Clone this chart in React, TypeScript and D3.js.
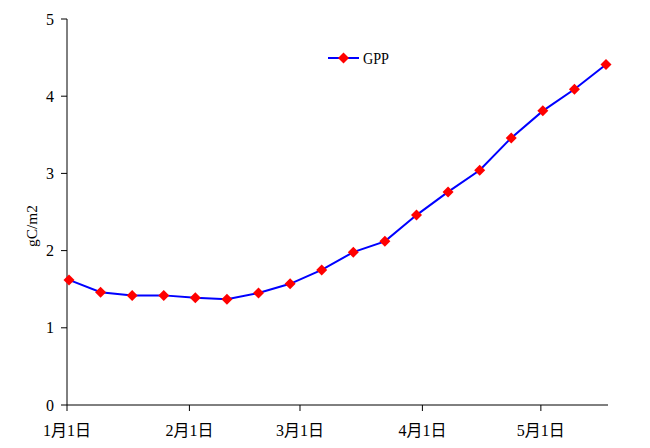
import React from "react";
import * as d3 from "d3";

const dates: string[] = [
  "2001-01-01", "2001-01-09", "2001-01-17", "2001-01-25", "2001-02-02", "2001-02-10",
  "2001-02-18", "2001-02-26", "2001-03-06", "2001-03-14", "2001-03-22", "2001-03-30",
  "2001-04-07", "2001-04-15", "2001-04-23", "2001-05-01", "2001-05-09", "2001-05-17",
];
const gpp: number[] = [
  1.62, 1.46, 1.42, 1.42, 1.39, 1.37, 1.45, 1.57, 1.75, 1.98, 2.12, 2.46,
  2.76, 3.04, 3.46, 3.81, 4.09, 4.41,
];
const xTickDates: string[] = ["2001-01-01", "2001-02-01", "2001-03-01", "2001-04-01", "2001-05-01"];
const xTickLabels: string[] = ["1月1日", "2月1日", "3月1日", "4月1日", "5月1日"];
const yTicks: number[] = [0, 1, 2, 3, 4, 5];
const seriesName = "GPP";
const yTitle = "gC/m2";

const parse = (s: string) => {
  const [y, m, d] = s.split("-").map(Number);
  return new Date(y, m - 1, d);
};

export default function App() {
  const W = 650, H = 448;
  const left = 67, right = 608, top = 19, bottom = 405;
  // Excel-style date axis: each day is a band; points at middle of the day
  const x = d3.scaleTime().domain([parse("2001-01-01"), parse("2001-05-18")]).range([left, right]);
  const y = d3.scaleLinear().domain([0, 5]).range([bottom, top]);
  const halfDay = 12 * 3600 * 1000;
  const pts = dates.map((d, i) => [x(new Date(parse(d).getTime() + halfDay)), y(gpp[i])] as [number, number]);
  const line = d3.line<[number, number]>()(pts) || "";
  const diamond = (cx: number, cy: number, r = 5.5) =>
    `M${cx},${cy - r}L${cx + r},${cy}L${cx},${cy + r}L${cx - r},${cy}Z`;
  const font = "'Liberation Serif', 'Noto Sans CJK SC', serif";

  return (
    <svg width={W} height={H} style={{ position: "fixed", left: 0, top: 0, background: "#fff" }} fontFamily={font}>
      <rect x={0} y={0} width={W} height={H} fill="#fff" />
      {/* y axis */}
      <line x1={left} y1={top} x2={left} y2={bottom} stroke="#000" strokeWidth={1} />
      {yTicks.map((t) => (
        <g key={t}>
          <line x1={left - 6} x2={left} y1={y(t)} y2={y(t)} stroke="#000" />
          <text x={54} y={y(t)} dy="0.35em" textAnchor="end" fontSize={16}>{t}</text>
        </g>
      ))}
      {/* x axis */}
      <line x1={left} y1={bottom} x2={right} y2={bottom} stroke="#000" strokeWidth={1} />
      {xTickDates.map((d, i) => (
        <g key={d}>
          <line x1={x(parse(d))} x2={x(parse(d))} y1={bottom} y2={bottom + 6} stroke="#000" />
          <text x={x(parse(d))} y={436} textAnchor="middle" fontSize={16}>{xTickLabels[i]}</text>
        </g>
      ))}
      {/* y title */}
      <text transform="translate(37,226) rotate(-90)" textAnchor="middle" fontSize={14} textLength={42} lengthAdjust="spacingAndGlyphs">{yTitle}</text>
      {/* series */}
      <path d={line} fill="none" stroke="#0000ff" strokeWidth={2} />
      {pts.map(([px, py], i) => (
        <path key={i} d={diamond(px, py)} fill="#ff0000" />
      ))}
      {/* legend */}
      <line x1={328} x2={359} y1={58} y2={58} stroke="#0000ff" strokeWidth={2} />
      <path d={diamond(343.5, 58)} fill="#ff0000" />
      <text x={363} y={64} fontSize={16} textLength={26} lengthAdjust="spacingAndGlyphs">{seriesName}</text>
    </svg>
  );
}
